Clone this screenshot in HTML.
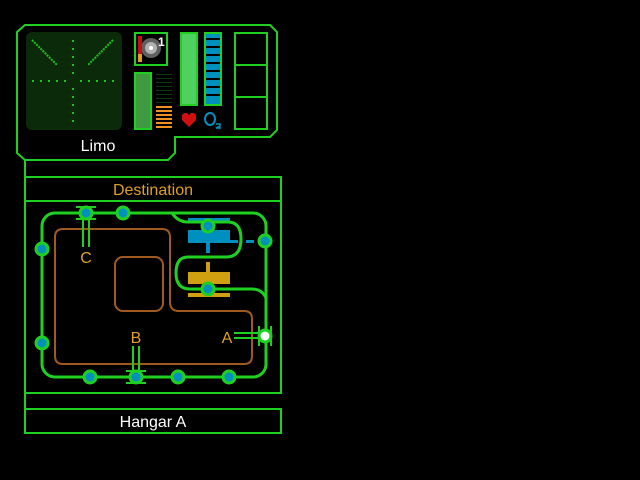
<!DOCTYPE html>
<html><head><style>
html,body{margin:0;padding:0;background:#000;width:640px;height:480px;overflow:hidden}
svg{display:block}
</style></head><body>
<svg width="640" height="480" viewBox="0 0 640 480" xmlns="http://www.w3.org/2000/svg" font-family="Liberation Sans, sans-serif">
<rect width="640" height="480" fill="#000"/>
<path d="M25,25 L270,25 L277,32 L277,130 L270,137 L175,137 L175,153 L168,160 L25,160 L17,153 L17,32 Z" fill="none" stroke="#20d020" stroke-width="2"/>
<line x1="25" y1="160" x2="25" y2="178" stroke="#20d020" stroke-width="2"/>
<rect x="26" y="32" width="96" height="98" rx="6" fill="#0a2a0a"/>
<g fill="#20c020">
<rect x="72" y="40" width="2" height="2"/><rect x="72" y="48" width="2" height="2"/><rect x="72" y="56" width="2" height="2"/><rect x="72" y="64" width="2" height="2"/><rect x="72" y="72" width="2" height="2"/>
<rect x="72" y="88" width="2" height="2"/><rect x="72" y="96" width="2" height="2"/><rect x="72" y="104" width="2" height="2"/><rect x="72" y="112" width="2" height="2"/><rect x="72" y="120" width="2" height="2"/>
<rect x="32" y="80" width="2" height="2"/><rect x="40" y="80" width="2" height="2"/><rect x="48" y="80" width="2" height="2"/><rect x="56" y="80" width="2" height="2"/><rect x="64" y="80" width="2" height="2"/>
<rect x="80" y="80" width="2" height="2"/><rect x="88" y="80" width="2" height="2"/><rect x="96" y="80" width="2" height="2"/><rect x="104" y="80" width="2" height="2"/><rect x="112" y="80" width="2" height="2"/>
</g>
<line x1="32" y1="40" x2="57" y2="65" stroke="#20c020" stroke-width="2" stroke-dasharray="2,1"/>
<line x1="113" y1="40" x2="88" y2="65" stroke="#20c020" stroke-width="2" stroke-dasharray="2,1"/>
<rect x="135" y="33" width="32" height="32" fill="#000" stroke="#20d020" stroke-width="2"/>
<circle cx="151" cy="48" r="10" fill="#606060"/><circle cx="151" cy="48" r="6" fill="#b0b0b0"/><circle cx="151" cy="48" r="2" fill="#fff"/>
<rect x="138" y="36" width="4" height="18" fill="#c01010"/><rect x="138" y="54" width="4" height="8" fill="#e0a020"/>
<text x="158" y="46" font-size="12" fill="#fff" font-weight="bold">1</text>
<rect x="135" y="73" width="16" height="56" fill="#409a40" stroke="#20d020" stroke-width="2"/>
<g fill="#0c3a0c">
<rect x="156" y="74" width="16" height="1"/><rect x="156" y="78" width="16" height="1"/><rect x="156" y="82" width="16" height="1"/><rect x="156" y="86" width="16" height="1"/><rect x="156" y="90" width="16" height="1"/><rect x="156" y="94" width="16" height="1"/><rect x="156" y="98" width="16" height="1"/><rect x="156" y="102" width="16" height="1"/></g>
<g fill="#f09020">
<rect x="156" y="106" width="16" height="2"/><rect x="156" y="110" width="16" height="2"/><rect x="156" y="114" width="16" height="2"/><rect x="156" y="118" width="16" height="2"/><rect x="156" y="122" width="16" height="2"/><rect x="156" y="126" width="16" height="2"/></g>
<rect x="181" y="33" width="16" height="72" fill="#50d060" stroke="#20d020" stroke-width="2"/>
<rect x="205" y="33" width="16" height="72" fill="#0090c0" stroke="#20d020" stroke-width="2"/>
<g fill="#000">
<rect x="206" y="38" width="14" height="2"/><rect x="206" y="46" width="14" height="2"/><rect x="206" y="54" width="14" height="2"/><rect x="206" y="62" width="14" height="2"/><rect x="206" y="70" width="14" height="2"/><rect x="206" y="78" width="14" height="2"/><rect x="206" y="86" width="14" height="2"/><rect x="206" y="94" width="14" height="2"/></g>
<path d="M189,127 L182,120 L182,115 L184,113 L187,113 L189,115 L191,113 L194,113 L196,115 L196,120 Z" fill="#d01010"/>
<ellipse cx="210" cy="119" rx="5" ry="6" fill="none" stroke="#0090c0" stroke-width="2"/>
<path d="M216,124 L220,124 L220,126 L216,128 L221,128" fill="none" stroke="#0090c0" stroke-width="1.5"/>
<rect x="235" y="33" width="32" height="96" fill="none" stroke="#20d020" stroke-width="2"/>
<line x1="235" y1="65" x2="267" y2="65" stroke="#20d020" stroke-width="2"/>
<line x1="235" y1="97" x2="267" y2="97" stroke="#20d020" stroke-width="2"/>
<text x="98" y="151" font-size="16" fill="#fff" text-anchor="middle">Limo</text>
<rect x="25" y="177" width="256" height="216" fill="none" stroke="#20d020" stroke-width="2"/>
<line x1="25" y1="201" x2="281" y2="201" stroke="#20d020" stroke-width="2"/>
<text x="153" y="195" font-size="16" fill="#e0a020" text-anchor="middle">Destination</text>
<line x1="25" y1="393" x2="25" y2="410" stroke="#20d020" stroke-width="2"/>
<rect x="25" y="409" width="256" height="24" fill="none" stroke="#20d020" stroke-width="2"/>
<text x="153" y="427" font-size="16" fill="#fff" text-anchor="middle">Hangar A</text>
<path d="M63,229 L162,229 Q170,229 170,237 L170,302 Q170,311 179,311 L244,311 Q252,311 252,319 L252,356 Q252,364 244,364 L63,364 Q55,364 55,356 L55,237 Q55,229 63,229 Z" fill="none" stroke="#a05a20" stroke-width="2"/>
<rect x="115" y="257" width="48" height="54" rx="8" fill="none" stroke="#a05a20" stroke-width="2"/>
<path d="M188,218 L230,218 L230,221 L188,221 Z M188,230 L230,230 L230,240 L238,240 L238,243 L210,243 L210,253 L206,253 L206,243 L188,243 Z" fill="#0090c0"/>
<rect x="246" y="240" width="8" height="3" fill="#0090c0"/>
<path d="M206,262 L210,262 L210,272 L230,272 L230,284 L188,284 L188,272 L206,272 Z M188,293 L230,293 L230,297 L188,297 Z" fill="#d0a010"/>
<rect x="42" y="213" width="224" height="164" rx="13" fill="none" stroke="#20d020" stroke-width="3"/>
<path d="M172,213 Q178,222 188,222 L228,222 Q241,222 241,239 Q241,257 226,257 L188,257 Q176,257 176,273 Q176,289 190,289 L252,289 Q262,289 266,298" fill="none" stroke="#20d020" stroke-width="3"/>
<g stroke="#20d020" stroke-width="2">
<line x1="83" y1="218" x2="83" y2="247"/><line x1="89" y1="218" x2="89" y2="247"/>
<line x1="133" y1="346" x2="133" y2="372"/><line x1="139" y1="346" x2="139" y2="372"/>
<line x1="234" y1="333" x2="259" y2="333"/><line x1="234" y1="338" x2="259" y2="338"/>
</g>
<g font-size="16" fill="#e0a020" text-anchor="middle">
<text x="86" y="263">C</text><text x="136" y="343">B</text><text x="227" y="343">A</text></g>
<g stroke="#20d020" stroke-width="3" fill="#0090c0">
<circle cx="86" cy="213" r="6"/><circle cx="123" cy="213" r="6"/><circle cx="208" cy="226" r="6"/><circle cx="265" cy="241" r="6"/>
<circle cx="42" cy="249" r="6"/><circle cx="42" cy="343" r="6"/><circle cx="208" cy="289" r="6"/>
<circle cx="90" cy="377" r="6"/><circle cx="136" cy="377" r="6"/><circle cx="178" cy="377" r="6"/><circle cx="229" cy="377" r="6"/>
<circle cx="265" cy="336" r="6" fill="#fff"/>
</g>
<g fill="#20d020">
<rect x="76" y="206" width="20" height="2"/><rect x="76" y="218" width="20" height="2"/>
<rect x="126" y="370" width="20" height="2"/><rect x="126" y="382" width="20" height="2"/>
<rect x="258" y="326" width="2" height="20"/><rect x="270" y="326" width="2" height="20"/>
</g>
</svg>
</body></html>
